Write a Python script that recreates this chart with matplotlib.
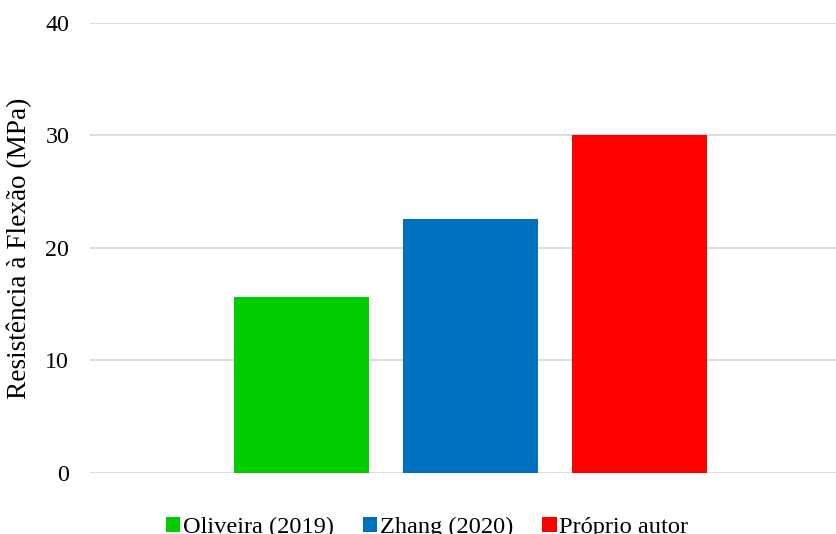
import matplotlib
matplotlib.use("Agg")
import matplotlib.pyplot as plt
from matplotlib.patches import Patch
import numpy as np

plt.rcParams['font.family'] = ['Liberation Serif', 'DejaVu Serif']

# Data
series = ["Oliveira (2019)", "Zhang (2020)", "Próprio autor"]
values = [15.65, 22.57, 30.08]
colors = ["#00CC00", "#0070C0", "#FF0000"]
y_ticks = [0, 10, 20, 30, 40]
y_label = "Resistência à Flexão (MPa)"

FS = 17.3

fig = plt.figure(figsize=(8.37, 5.34), dpi=100)
ax = fig.add_axes([90 / 837, 61.3 / 534, 747 / 837, 449.7 / 534])

x = np.arange(len(series))
ax.bar(x, values, width=0.8, color=colors, zorder=3)

ax.set_ylim(0, 40)
ax.set_xlim(-1.2515, 3.1686)
ax.set_yticks(y_ticks)
ax.set_yticklabels([str(t) for t in y_ticks], fontsize=FS)
ax.set_xticks([])
ax.tick_params(axis='y', length=0, pad=15)
ax.grid(axis='y', color='#d9d9d9', linewidth=1.3, zorder=0)
for s in ax.spines.values():
    s.set_visible(False)

ax.set_ylabel(y_label, fontsize=19.6, va='center')
ax.yaxis.set_label_coords(-0.094, 0.5)

handles = [Patch(facecolor=c, edgecolor='none') for c in colors]
fig.legend(handles, series, loc='center', bbox_to_anchor=(427 / 837, 6.5 / 534),
           ncol=3, frameon=False, fontsize=17.6, borderpad=0,
           handlelength=0.58, handleheight=0.58, handletextpad=0.1,
           columnspacing=1.2)

fig.savefig("out.png", dpi=100)
